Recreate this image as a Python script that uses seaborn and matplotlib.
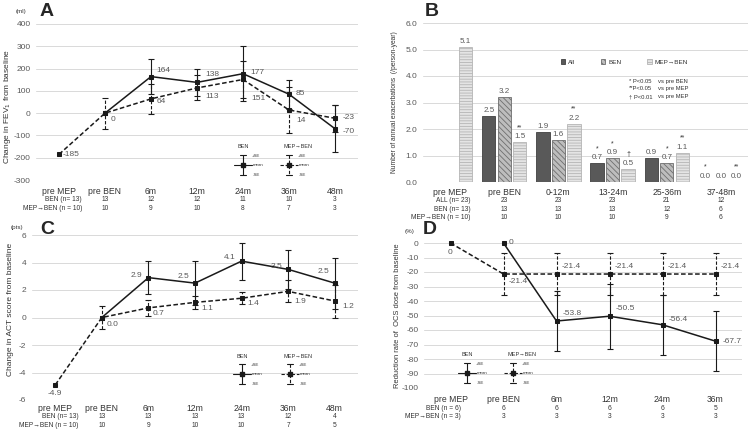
import numpy as np
import pandas as pd
import seaborn as sns
import matplotlib.pyplot as plt
import matplotlib.patches as mpatches

# ---- A: change in FEV1 (ml)
time_a = ['pre MEP', 'pre BEN', '6m', '12m', '24m', '36m', '48m']
fev_ben = [np.nan, 0, 164, 138, 177, 85, -70]
fev_ben_se = [np.nan, np.nan, 80, 59, 123, 65, 105]
fev_mep = [-185, 0, 64, 113, 151, 14, -23]
fev_mep_se = [np.nan, 70, 69, 56, 85, 105, 60]
n_ben_a = [13, 12, 12, 11, 10, 3]
n_mep_a = [10, 9, 10, 8, 7, 3]

# ---- B: annual exacerbations
period_b = ['pre MEP', 'pre BEN', '0-12m', '13-24m', '25-36m', '37-48m']
groups_b = ['All', 'BEN', 'MEP→BEN']
exac_all = [np.nan, 2.5, 1.9, 0.7, 0.9, 0.0]
exac_ben = [np.nan, 3.2, 1.6, 0.9, 0.7, 0.0]
exac_mep = [5.1, 1.5, 2.2, 0.5, 1.1, 0.0]
sig_all = ['', '', '', '*', '', '*']
sig_ben = ['', '', '', '*', '*', '']
sig_mep = ['', '**', '**', '†', '**', '**']
n_all_b = [23, 23, 23, 21, 12]
n_ben_b = [13, 13, 13, 12, 6]
n_mep_b = [10, 10, 10, 9, 6]

# ---- C: change in ACT score (pts)
time_c = ['pre MEP', 'pre BEN', '6m', '12m', '24m', '36m', '48m']
act_ben = [np.nan, 0.0, 2.9, 2.5, 4.1, 3.5, 2.5]
act_ben_se = [np.nan, np.nan, 1.2, 1.6, 1.35, 1.4, 1.85]
act_mep = [-4.9, 0.0, 0.7, 1.1, 1.4, 1.9, 1.2]
act_mep_se = [np.nan, 0.85, 0.6, 0.5, 0.45, 0.8, 1.2]
n_ben_c = [13, 13, 13, 13, 12, 4]
n_mep_c = [10, 9, 10, 10, 7, 5]

# ---- D: reduction rate of OCS dose (%)
time_d = ['pre MEP', 'pre BEN', '6m', '12m', '24m', '36m']
ocs_ben = [np.nan, 0, -53.8, -50.5, -56.4, -67.7]
ocs_ben_se = [np.nan, np.nan, 21, 22.5, 20.5, 20.7]
ocs_mep = [0, -21.4, -21.4, -21.4, -21.4, -21.4]
ocs_mep_se = [np.nan, 14.6, 14.6, 14.6, 14.6, 14.6]
n_ben_d = [6, 6, 6, 6, 5]
n_mep_d = [3, 3, 3, 3, 3]

W, H = 752, 433
DARK = '#1a1a1a'
GRID = '#d9d9d9'
TXT = '#595959'
LAB = '#333333'
DASH = (0, (3, 1.6))

sns.set_style('white')
plt.rcParams['font.family'] = ['Liberation Sans', 'DejaVu Sans']
plt.rcParams['hatch.linewidth'] = 0.6

fig = plt.figure(figsize=(W / 100, H / 100), dpi=100)


def add_ax(left, top, right, bottom):
    return fig.add_axes([left / W, 1 - bottom / H, (right - left) / W, (bottom - top) / H])


def style_ax(ax, cats, yticks, fmt, pad):
    ax.set_xlim(-0.5, len(cats) - 0.5)
    ax.set_ylim(yticks[0], yticks[-1])
    ax.set_yticks(yticks)
    ax.set_yticklabels([fmt.format(v) for v in yticks])
    ax.set_xticks(range(len(cats)))
    ax.set_xticklabels(cats)
    ax.tick_params(axis='x', length=0, pad=pad, labelsize=6.2, labelcolor=LAB)
    ax.tick_params(axis='y', length=0, pad=4, labelsize=6, labelcolor=TXT)
    ax.yaxis.grid(True, color=GRID, lw=0.7)
    ax.set_axisbelow(True)
    sns.despine(ax=ax, left=True, bottom=True)
    ax.set_xlabel('')


def n_rows(ax, rows, ys, label_x):
    tr = ax.get_xaxis_transform()
    for (label, vals), y in zip(rows, ys):
        ax.text(label_x, y, label, transform=tr, ha='right', va='center', fontsize=4.8, color=LAB)
        for i, v in enumerate(vals):
            ax.text(i + 1, y, str(v), transform=tr, ha='center', va='center', fontsize=4.8, color=LAB)


def series(ax, vals, se, ls, offsets, fmt):
    x = np.arange(len(vals))
    y = np.array(vals, dtype=float)
    s = np.array(se, dtype=float)
    sns.lineplot(x=x, y=y, ax=ax, color=DARK, linewidth=1.1, linestyle=ls, marker='s',
                 markersize=3.2, markeredgecolor=DARK, errorbar=None)
    m = ~np.isnan(s)
    eb = ax.errorbar(x[m], y[m], yerr=s[m], fmt='none', ecolor=DARK, elinewidth=0.8,
                     capsize=2.5, capthick=0.8)
    if ls != '-':
        eb[2][0].set_linestyle(ls)
    for xi, v, off in zip(x, y, offsets):
        if off is None or np.isnan(v):
            continue
        ha = 'left' if off[0] > 0 else ('right' if off[0] < 0 else 'center')
        ax.annotate(fmt.format(v), (xi, v), xytext=off, textcoords='offset pixels',
                    ha=ha, va='center', fontsize=6, color=TXT)


def se_key(ax, px, py, title, ls, box):
    # legend glyph for mean +/- SE, px/py in figure pixels
    left, top, right, bottom = box
    fx = lambda p: (p - left) / (right - left)
    fy = lambda p: (bottom - p) / (bottom - top)
    t = ax.transAxes
    kw = dict(transform=t, color=DARK, lw=0.8, clip_on=False)
    ax.plot([fx(px), fx(px)], [fy(py - 10), fy(py + 10)], ls=ls, **kw)
    ax.plot([fx(px - 3), fx(px + 3)], [fy(py - 10)] * 2, **kw)
    ax.plot([fx(px - 3), fx(px + 3)], [fy(py + 10)] * 2, **kw)
    ax.plot([fx(px - 9), fx(px + 9)], [fy(py)] * 2, ls=ls, **kw)
    ax.plot([fx(px)], [fy(py)], marker='s', ms=3, transform=t, color=DARK, clip_on=False)
    ax.text(fx(px - 6), fy(py - 18), title, transform=t, fontsize=4, color=LAB, va='center')
    for dy, s, dx in [(-9, '+SE', 9), (0, 'mean', 10), (10, '-SE', 10)]:
        ax.text(fx(px + dx), fy(py + dy), s, transform=t, fontsize=3.2, color=LAB, va='center')


# ================= A
box_a = (36, 24, 358, 180)
ax_a = add_ax(*box_a)
style_ax(ax_a, time_a, list(range(-300, 401, 100)), '{:d}', 5)
series(ax_a, fev_ben, fev_ben_se, '-',
       [None, None, (5, 6), (8, 8), (7, 1), (7, 1), (8, -3)], '{:g}')
series(ax_a, fev_mep, fev_mep_se, DASH,
       [(4, 0), (6, -6), (6, -3), (8, -9), (8, -19), (7, -10), (8, 1)], '{:g}')
ax_a.set_ylabel('Change in FEV$_1$ from baseline', fontsize=6, color=LAB)
ax_a.yaxis.set_label_coords(-0.07, 0.47)
n_rows(ax_a, [('BEN (n= 13)', n_ben_a), ('MEP→BEN (n = 10)', n_mep_a)], [-0.128, -0.183], 0.5)
se_key(ax_a, 243, 165, 'BEN', '-', box_a)
se_key(ax_a, 289, 165, 'MEP→BEN', DASH, box_a)

# ================= B
box_b = (423, 23, 748, 182)
ax_b = add_ax(*box_b)
df_b = pd.DataFrame({
    'period': period_b * 3,
    'group': np.repeat(groups_b, len(period_b)),
    'rate': exac_all + exac_ben + exac_mep,
}).dropna()
pal = {'All': '#595959', 'BEN': '#bdbdbd', 'MEP→BEN': '#e4e4e4'}
sns.barplot(data=df_b, x='period', y='rate', hue='group', order=period_b, hue_order=groups_b,
            palette=pal, width=0.86, gap=0.14, errorbar=None, legend=False, ax=ax_b)
style_ax(ax_b, period_b, [0, 1, 2, 3, 4, 5, 6], '{:.1f}', 4)
bar_style = {
    'All': dict(edgecolor='#404040', hatch=None),
    'BEN': dict(edgecolor='#6e6e6e', hatch='\\\\\\\\\\\\'),
    'MEP→BEN': dict(edgecolor='#b5b5b5', hatch='------'),
}
for cont, g, sig in zip(ax_b.containers, groups_b, [sig_all, sig_ben, sig_mep]):
    for bar in cont:
        bar.set_edgecolor(bar_style[g]['edgecolor'])
        bar.set_linewidth(0.6)
        if bar_style[g]['hatch']:
            bar.set_hatch(bar_style[g]['hatch'])
        cx = bar.get_x() + bar.get_width() / 2
        h = bar.get_height()
        idx = int(round(cx))
        ax_b.annotate(f'{h:.1f}', (cx, h), xytext=(0, 1.5), textcoords='offset points',
                      ha='center', va='bottom', fontsize=5.8, color=TXT)
        if sig[idx]:
            ax_b.annotate(sig[idx], (cx, h), xytext=(0, 8), textcoords='offset points',
                          ha='center', va='bottom', fontsize=5, color=LAB)
handles = [mpatches.Patch(facecolor=pal[g], edgecolor=bar_style[g]['edgecolor'],
                          hatch=bar_style[g]['hatch'], lw=0.6, label=g) for g in groups_b]
ax_b.legend(handles=handles, ncol=3, frameon=False, fontsize=4.6, loc='center',
            bbox_to_anchor=(0.62, 0.755), handlelength=0.7, handleheight=0.7,
            columnspacing=4.0, handletextpad=0.5, labelcolor=LAB)
for y, a, b in [(0.635, '* P<0.05', 'vs pre BEN'), (0.585, '**P<0.05', 'vs pre MEP'),
                (0.535, '† P<0.01', 'vs pre MEP')]:
    ax_b.text(0.634, y, a, transform=ax_b.transAxes, fontsize=4.2, color=LAB, va='center')
    ax_b.text(0.722, y, b, transform=ax_b.transAxes, fontsize=4.2, color=LAB, va='center')
ax_b.set_ylabel('Number of annual exacerbations  (/person-year)', fontsize=4.8, color=LAB)
ax_b.yaxis.set_label_coords(-0.077, 0.5)
n_rows(ax_b, [('ALL (n= 23)', n_all_b), ('BEN (n= 13)', n_ben_b), ('MEP→BEN (n = 10)', n_mep_b)],
       [-0.116, -0.17, -0.222], 0.38)

# ================= C
box_c = (32, 235, 358, 400)
ax_c = add_ax(*box_c)
style_ax(ax_c, time_c, [-6, -4, -2, 0, 2, 4, 6], '{:d}', 3)
series(ax_c, act_ben, act_ben_se, '-',
       [None, None, (-6, 2), (-6, 7), (-6, 4), (-6, 3), (-5, 12)], '{:.1f}')
series(ax_c, act_mep, act_mep_se, DASH,
       [(0, -9), (5, -7), (4, -6), (6, -6), (6, -5), (6, -10), (8, -6)], '{:.1f}')
ax_c.set_ylabel('Change in ACT score from baseline', fontsize=6, color=LAB)
ax_c.yaxis.set_label_coords(-0.055, 0.55)
n_rows(ax_c, [('BEN (n= 13)', n_ben_c), ('MEP→BEN (n = 10)', n_mep_c)], [-0.097, -0.152], 0.5)
se_key(ax_c, 242, 374, 'BEN', '-', box_c)
se_key(ax_c, 290, 374, 'MEP→BEN', DASH, box_c)

# ================= D
box_d = (424, 243, 742, 388)
ax_d = add_ax(*box_d)
style_ax(ax_d, time_d, list(range(-100, 1, 10)), '{:d}', 5)
series(ax_d, ocs_ben, ocs_ben_se, '-',
       [None, (5, 0), (6, 8), (6, 8), (6, 5), (7, 0)], '{:g}')
series(ax_d, ocs_mep, ocs_mep_se, DASH,
       [(0, -9), (5, -7), (5, 8), (5, 8), (5, 8), (5, 8)], '{:g}')
for art in ax_d.lines + ax_d.collections:
    art.set_clip_on(False)
ax_d.set_ylabel('Reduction rate of  OCS dose from baseline', fontsize=5.4, color=LAB)
ax_d.yaxis.set_label_coords(-0.072, 0.5)
n_rows(ax_d, [('BEN (n = 6)', n_ben_d), ('MEP→BEN (n = 3)', n_mep_d)], [-0.141, -0.2], 0.2)
se_key(ax_d, 467, 373, 'BEN', '-', box_d)
se_key(ax_d, 513, 373, 'MEP→BEN', DASH, box_d)

# panel letters and units
for x, y, s in [(40, 12, 'A'), (425, 12, 'B'), (40, 230, 'C'), (423, 230, 'D')]:
    fig.text(x / W, 1 - y / H, s, fontsize=14, fontweight='bold', va='center', ha='left')
for x, y, s in [(16, 11, '(ml)'), (11, 228, '(pts)'), (405, 231, '(%)')]:
    fig.text(x / W, 1 - y / H, s, fontsize=4.5, color=LAB, va='center', ha='left')

fig.savefig('out.png', dpi=100)
